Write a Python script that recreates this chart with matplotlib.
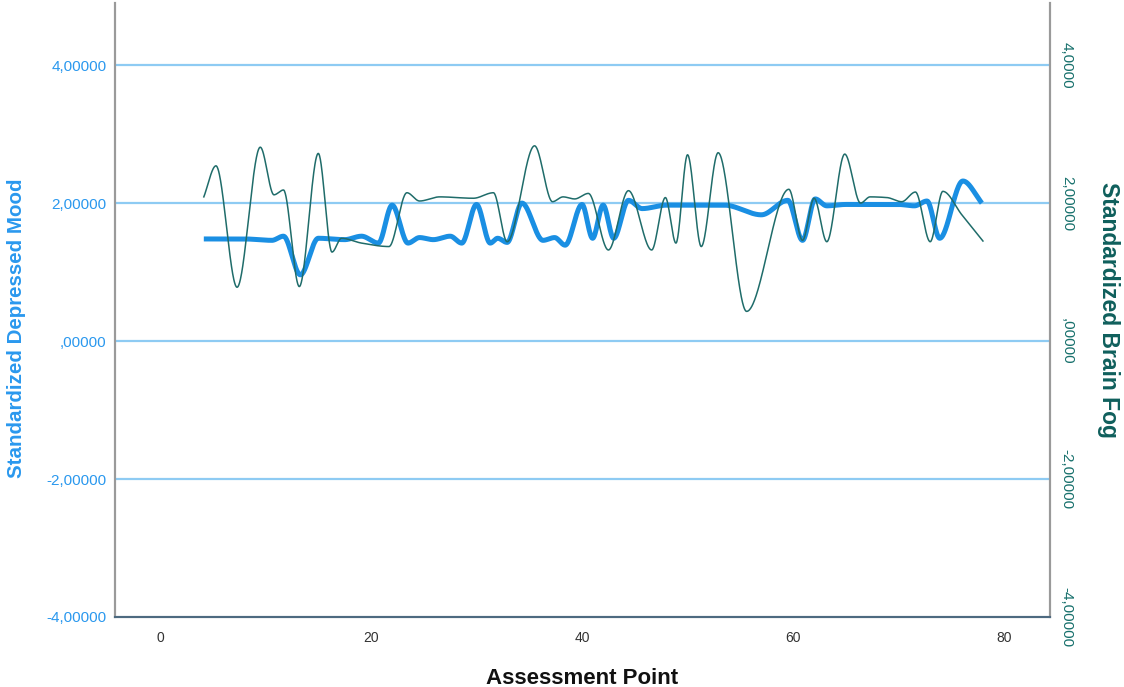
"""
Standardized depressed mood and brain fog over assessment points (dual axis).
"""

# %% imports
import numpy as np
import matplotlib
matplotlib.use('Agg')
import matplotlib.pyplot as plt


# %% series (assessment point, standardized score)
moodX = [4.15, 8.0, 10.6, 11.7, 13.3, 15.0, 17.5, 19.1, 20.7, 22.0, 23.5, 24.6,
         25.9, 27.5, 28.6, 30.0, 31.3, 32.0, 32.9, 34.3, 36.3, 37.4, 38.4, 40.0,
         41.0, 42.0, 43.0, 44.4, 45.7, 48.0, 53.5, 57.0, 59.5, 60.9, 62.1, 63.2,
         65.0, 70.0, 71.5, 72.7, 73.9, 76.1, 77.9]
moodY = [1.48, 1.48, 1.46, 1.52, 0.96, 1.49, 1.47, 1.52, 1.42, 1.97, 1.42, 1.50,
         1.47, 1.52, 1.42, 1.98, 1.42, 1.49, 1.43, 2.00, 1.46, 1.50, 1.39, 1.98,
         1.49, 1.97, 1.49, 2.04, 1.92, 1.97, 1.97, 1.83, 2.04, 1.46, 2.06, 1.96,
         1.98, 1.98, 1.96, 2.03, 1.49, 2.32, 2.00]

fogX = [4.15, 5.3, 7.3, 9.5, 10.8, 11.7, 13.2, 15.0, 16.3, 17.2, 19.1, 21.7,
        23.4, 24.6, 26.5, 29.7, 31.6, 32.9, 35.5, 37.2, 38.2, 39.3, 40.6, 42.5,
        44.4, 46.6, 47.9, 48.9, 50.0, 51.3, 52.9, 55.6, 59.6, 60.9, 62.0, 63.2,
        64.9, 66.4, 67.3, 68.9, 70.3, 71.6, 73.0, 74.2, 76.0, 78.0]
fogY = [2.09, 2.54, 0.78, 2.81, 2.12, 2.19, 0.79, 2.72, 1.29, 1.49, 1.42, 1.37,
        2.15, 2.03, 2.09, 2.07, 2.15, 1.44, 2.83, 2.02, 2.09, 2.06, 2.14, 1.32,
        2.18, 1.32, 2.08, 1.42, 2.70, 1.37, 2.73, 0.43, 2.20, 1.46, 2.07, 1.44,
        2.71, 2.00, 2.09, 2.08, 2.02, 2.16, 1.44, 2.17, 1.83, 1.45]

xTicks = [0, 20, 40, 60, 80]
yTicks = [-4, -2, 0, 2, 4]
leftLabels = ['-4,00000', '-2,00000', ',00000', '2,00000', '4,00000']
rightLabels = ['-4,00000', '-2,00000', ',00000', '2,00000', '4,0000']


# %% smooth interpolation between points (piecewise cubic hermite)
def pchip(x, y, xs):
    x = np.asarray(x, float)
    y = np.asarray(y, float)
    h = np.diff(x)
    d = np.diff(y) / h
    m = np.zeros_like(y)
    m[0], m[-1] = d[0], d[-1]
    for k in range(1, len(x) - 1):
        if d[k - 1] * d[k] > 0:
            w1 = 2 * h[k] + h[k - 1]
            w2 = h[k] + 2 * h[k - 1]
            m[k] = (w1 + w2) / (w1 / d[k - 1] + w2 / d[k])
    idx = np.clip(np.searchsorted(x, xs) - 1, 0, len(x) - 2)
    t = (xs - x[idx]) / h[idx]
    h00 = 2 * t**3 - 3 * t**2 + 1
    h10 = t**3 - 2 * t**2 + t
    h01 = -2 * t**3 + 3 * t**2
    h11 = t**3 - t**2
    return (h00 * y[idx] + h10 * h[idx] * m[idx]
            + h01 * y[idx + 1] + h11 * h[idx] * m[idx + 1])


moodXs = np.linspace(moodX[0], moodX[-1], 2000)
moodYs = pchip(moodX, moodY, moodXs)
fogXs = np.linspace(fogX[0], fogX[-1], 2000)
fogYs = pchip(fogX, fogY, fogXs)


# %% colours
moodCol = '#1a8fe3'
fogCol = '#1f6c6a'
gridCol = '#8ecbf3'
leftTxt = '#2a98ee'
rightTxt = '#17706c'

plt.rcParams['font.family'] = ['Liberation Sans', 'DejaVu Sans']


# %% plot
fig = plt.figure(figsize=(11.24, 6.87), dpi=100)
ax = fig.add_axes([0.1023, 0.1019, 0.8319, 0.8937])
ax2 = ax.twinx()

ax.set_xlim(-4.27, 84.36)
ax.set_ylim(-4, 4.9)
ax2.set_ylim(-4, 4.9)

for yv in yTicks[1:]:
    ax.axhline(yv, color=gridCol, lw=1.6, zorder=1)

ax.plot(moodXs, moodYs, color=moodCol, lw=3.6, solid_capstyle='butt', zorder=3)
ax2.plot(fogXs, fogYs, color=fogCol, lw=1.1, zorder=4)

ax.set_xticks(xTicks)
ax.set_xticklabels([str(v) for v in xTicks], color='#333333', fontsize=10)
ax.set_yticks(yTicks)
ax.set_yticklabels(leftLabels, color=leftTxt, fontsize=11)
ax2.set_yticks(yTicks)
ax2.set_yticklabels(rightLabels, color=rightTxt, fontsize=11, rotation=-90,
                    va='center')
ax.tick_params(axis='y', length=0, pad=6)
ax.tick_params(axis='x', length=0, pad=10)
ax2.tick_params(axis='y', length=0, pad=7)

for a in (ax, ax2):
    a.spines['top'].set_visible(False)
    a.spines['left'].set_color('#9a9a9a')
    a.spines['right'].set_color('#9a9a9a')
    a.spines['left'].set_linewidth(1.5)
    a.spines['right'].set_linewidth(1.5)
    a.spines['bottom'].set_color('#4d6a80')
    a.spines['bottom'].set_linewidth(1.5)

ax.set_xlabel('Assessment Point', fontsize=16, fontweight='bold', color='#111111',
              ha='center', va='center')
ax.xaxis.set_label_coords(0.5, -0.1)
ax.set_ylabel('Standardized Depressed Mood', fontsize=14.8, fontweight='bold',
              color=leftTxt, ha='center', va='center')
ax.yaxis.set_label_coords(-0.105, 0.47)
ax2.set_ylabel('Standardized Brain Fog', fontsize=16.5, fontweight='bold',
               color='#0f5f5c', rotation=-90, ha='center', va='center')
ax2.yaxis.set_label_coords(1.062, 0.5)

fig.savefig('out.png', dpi=100, facecolor='white')
